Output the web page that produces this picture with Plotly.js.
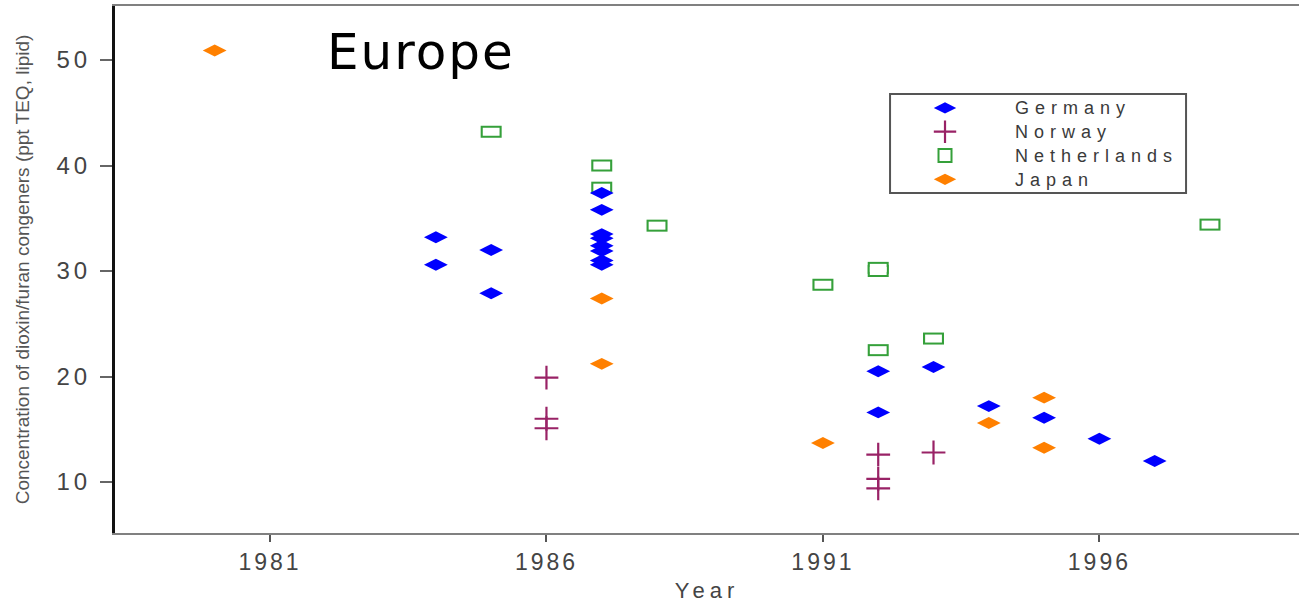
<!DOCTYPE html>
<html>
<head>
<meta charset="utf-8">
<script src="https://cdn.plot.ly/plotly-3.0.1.min.js"></script>
<style>
  html, body { margin: 0; padding: 0; background: #fff; }
  #chart { width: 1299px; height: 603px; }
  .xtick text { letter-spacing: 3px; }
  .ytick text { letter-spacing: 4px; }
  .legendtext { font-size: 18px !important; letter-spacing: 6px; }
  .g-xtitle text { letter-spacing: 5px; }
  .annotation-text { letter-spacing: 2px; }
</style>
</head>
<body>
<div id="chart"></div>
<script>
// Data
const countries = ["Germany", "Norway", "Netherlands", "Japan"];

const germanyYear = [1984, 1984, 1985, 1985, 1987, 1987, 1987, 1987, 1987, 1987, 1987, 1987, 1992, 1992, 1993, 1994, 1995, 1996, 1997];
const germanyConc = [33.2, 30.6, 32.0, 27.9, 37.4, 35.8, 33.5, 33.1, 32.4, 31.9, 31.0, 30.6, 20.5, 16.6, 20.9, 17.2, 16.1, 14.1, 12.0];

const norwayYear = [1986, 1986, 1986, 1992, 1992, 1992, 1993];
const norwayConc = [19.9, 16.0, 15.1, 12.6, 10.3, 9.4, 12.8];

const netherlandsYear = [1985, 1987, 1987, 1988, 1991, 1992, 1992, 1992, 1993, 1998];
const netherlandsConc = [43.2, 40.0, 37.9, 34.3, 28.7, 30.3, 30.0, 22.5, 23.6, 34.4];

const japanYear = [1980, 1987, 1987, 1991, 1994, 1995, 1995];
const japanConc = [50.9, 27.4, 21.2, 13.7, 15.6, 18.0, 13.25];

const xTickVals = [1981, 1986, 1991, 1996];
const yTickVals = [10, 20, 30, 40, 50];

const colGermany = "#0000ff";
const colNorway = "#992266";
const colNetherlands = "#35a03a";
const colJapan = "#ff8000";

const traces = [
  // Netherlands: hollow wide rectangles, drawn as a thick green bar with a white core
  {
    x: netherlandsYear, y: netherlandsConc, mode: "markers", showlegend: false, hoverinfo: "skip",
    marker: { symbol: "line-ew", size: 15, color: colNetherlands, line: { width: 12, color: colNetherlands } }
  },
  {
    x: netherlandsYear, y: netherlandsConc, mode: "markers", showlegend: false, hoverinfo: "skip",
    marker: { symbol: "line-ew", size: 12, color: "#ffffff", line: { width: 8, color: "#ffffff" } }
  },
  {
    x: [null], y: [null], mode: "markers", name: countries[2], legendrank: 3,
    marker: { symbol: "square-open", size: 13, color: colNetherlands, line: { width: 2 } }
  },
  {
    x: norwayYear, y: norwayConc, mode: "markers", name: countries[1], legendrank: 2,
    marker: { symbol: "cross-thin-open", size: 17, color: colNorway, line: { width: 2.2, color: colNorway } }
  },
  {
    x: japanYear, y: japanConc, mode: "markers", name: countries[3], legendrank: 4,
    marker: { symbol: "diamond-wide", size: 17, color: colJapan, line: { width: 0 } }
  },
  {
    x: germanyYear, y: germanyConc, mode: "markers", name: countries[0], legendrank: 1,
    marker: { symbol: "diamond-wide", size: 17, color: colGermany, line: { width: 0 } }
  }
];

const layout = {
  width: 1299, height: 603,
  margin: { l: 115, r: 0, t: 6, b: 70 },
  paper_bgcolor: "#ffffff", plot_bgcolor: "#ffffff",
  font: { family: "Liberation Sans, Arial, sans-serif", color: "#444" },
  showlegend: true,
  legend: {
    x: 0.6419, y: 0.8387, xanchor: "left", yanchor: "top",
    bgcolor: "rgba(0,0,0,0)", borderwidth: 0,
    itemwidth: 130,
    font: { family: "Liberation Sans, Arial, sans-serif", size: 16, color: "#3a3a3a" }
  },
  xaxis: {
    range: [1978.197, 1999.61],
    tickmode: "array", tickvals: xTickVals, ticktext: xTickVals.map(String),
    showgrid: false, zeroline: false,
    showline: true, linecolor: "#808080", linewidth: 2, mirror: true,
    ticks: "outside", ticklen: 7, tickwidth: 2, tickcolor: "#555",
    ticklabelstandoff: 0,
    tickfont: { family: "Liberation Sans, Arial, sans-serif", size: 23, color: "#444" },
    title: { text: "Year", standoff: 11, font: { family: "Liberation Sans, Arial, sans-serif", size: 22, color: "#444" } }
  },
  yaxis: {
    range: [5.17, 55.12],
    tickmode: "array", tickvals: yTickVals, ticktext: yTickVals.map(String),
    showgrid: false, zeroline: false,
    showline: true, linecolor: "#111", linewidth: 3,
    ticks: "outside", ticklen: 12, tickwidth: 2, tickcolor: "#666",
    ticklabelstandoff: 4,
    tickfont: { family: "Liberation Sans, Arial, sans-serif", size: 24, color: "#444" },
    title: { text: "Concentration of dioxin/furan congeners (ppt TEQ, lipid)", standoff: 22,
      font: { family: "Liberation Sans, Arial, sans-serif", size: 19, color: "#555" } }
  },
  shapes: [
    { type: "rect", xref: "paper", yref: "paper", x0: 0.6546, x1: 0.9046, y0: 0.6452, y1: 0.8330,
      line: { color: "#555", width: 2 }, fillcolor: "rgba(0,0,0,0)" }
  ],
  annotations: [
    { text: "Europe", xref: "paper", yref: "paper", x: 0.1774, y: 0.9127, xanchor: "left", yanchor: "middle",
      showarrow: false, font: { family: "DejaVu Sans", size: 50, color: "#000" } }
  ]
};

Plotly.newPlot("chart", traces, layout, { staticPlot: true, displayModeBar: false });
</script>
</body>
</html>
